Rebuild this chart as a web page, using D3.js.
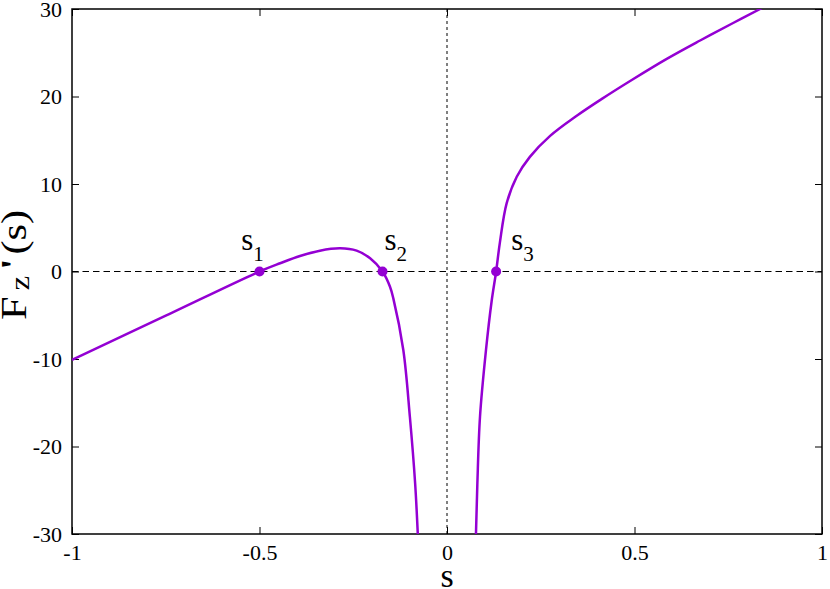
<!DOCTYPE html>
<html>
<head>
<meta charset="utf-8">
<script src="https://cdn.jsdelivr.net/npm/d3@7"></script>
<style>
  body { margin: 0; background: #fff; }
  svg text { font-family: "Liberation Serif", "Times New Roman", serif; fill: #000; }
</style>
</head>
<body>
<svg id="chart" width="830" height="589"></svg>
<script>
// values
const leftS = [-1.0, -0.75, -0.5, -0.445, -0.392, -0.339, -0.285, -0.241, -0.205, -0.172, -0.152, -0.143, -0.1165, -0.099, -0.085, -0.078, -0.075];
const leftF = [-10.1, -5.05, 0, 0.94, 1.77, 2.38, 2.65, 2.38, 1.51, 0, -1.74, -3.1, -8.97, -16.6, -24.2, -29.9, -33];
const rightS = [0.074, 0.0773, 0.081, 0.088, 0.104, 0.119, 0.131, 0.141, 0.159, 0.186, 0.221, 0.275, 0.346, 0.412, 0.497, 0.586, 0.675, 0.763, 0.835, 0.85];
const rightF = [-33, -29.9, -24.2, -16.6, -8.97, -3.4, 0, 3.3, 7.79, 10.83, 13.1, 15.5, 17.8, 19.7, 22.0, 24.3, 26.4, 28.4, 30.0, 30.35];
const roots = [-0.5, -0.172, 0.131];
const rootNames = ["1", "2", "3"];
const rootLabelS = [-0.549, -0.167, 0.171];
const rootLabelF = 2.51;
const xTicks = [-1, -0.5, 0, 0.5, 1];
const yTicks = [-30, -20, -10, 0, 10, 20, 30];

const W = 830, H = 589;
const margin = { left: 72, right: 8, top: 9, bottom: 55 };
const color = "#9400d3";
const serif = '"Liberation Serif", "Times New Roman", serif';

const svg = d3.select("#chart");

const x = d3.scaleLinear().domain([-1, 1]).range([margin.left, W - margin.right]);
const y = d3.scaleLinear().domain([-30, 30]).range([H - margin.bottom, margin.top]);

svg.append("defs").append("clipPath").attr("id", "clip")
  .append("rect")
  .attr("x", x(-1)).attr("y", y(30))
  .attr("width", x(1) - x(-1)).attr("height", y(-30) - y(30));

// zero lines
svg.append("line")
  .attr("x1", x(-1)).attr("x2", x(1))
  .attr("y1", y(0)).attr("y2", y(0))
  .attr("stroke", "#000").attr("stroke-width", 1)
  .attr("stroke-dasharray", "6.5,4");
svg.append("line")
  .attr("x1", x(0)).attr("x2", x(0))
  .attr("y1", y(-30)).attr("y2", y(30))
  .attr("stroke", "#000").attr("stroke-width", 1)
  .attr("stroke-dasharray", "3,3");

// axes, ticks pointing inward on all four sides
const tickLen = 7;
const fmt = d => String(d);
svg.append("g")
  .attr("transform", `translate(0,${y(-30)})`)
  .call(d3.axisBottom(x).tickValues(xTicks).tickSize(-tickLen).tickPadding(10).tickFormat(fmt))
  .call(g => g.select(".domain").remove());
svg.append("g")
  .attr("transform", `translate(0,${y(30)})`)
  .call(d3.axisTop(x).tickValues(xTicks).tickSize(-tickLen).tickFormat(""))
  .call(g => g.select(".domain").remove());
svg.append("g")
  .attr("transform", `translate(${x(-1)},0)`)
  .call(d3.axisLeft(y).tickValues(yTicks).tickSize(-tickLen).tickPadding(10).tickFormat(fmt))
  .call(g => g.select(".domain").remove());
svg.append("g")
  .attr("transform", `translate(${x(1)},0)`)
  .call(d3.axisRight(y).tickValues(yTicks).tickSize(-tickLen).tickFormat(""))
  .call(g => g.select(".domain").remove());

svg.selectAll("g").attr("font-family", serif);
svg.selectAll(".tick text")
  .style("font-family", serif)
  .style("font-size", "22px")
  .attr("fill", "#000");
svg.selectAll(".tick line").attr("stroke", "#000").attr("stroke-width", 1);

svg.append("rect")
  .attr("x", x(-1)).attr("y", y(30))
  .attr("width", x(1) - x(-1)).attr("height", y(-30) - y(30))
  .attr("fill", "none").attr("stroke", "#000").attr("stroke-width", 1.5);

// curve
const line = d3.line()
  .x(d => x(d[0]))
  .y(d => y(d[1]))
  .curve(d3.curveCatmullRom.alpha(0.5));

const plot = svg.append("g").attr("clip-path", "url(#clip)");
[[leftS, leftF], [rightS, rightF]].forEach(([s, f]) => {
  plot.append("path")
    .datum(s.map((v, i) => [v, f[i]]))
    .attr("d", line)
    .attr("fill", "none")
    .attr("stroke", color)
    .attr("stroke-width", 2.5);
});

// roots
svg.selectAll("circle.root")
  .data(roots)
  .enter()
  .append("circle")
  .attr("class", "root")
  .attr("cx", d => x(d))
  .attr("cy", y(0))
  .attr("r", 5)
  .attr("fill", color);

const lbl = svg.selectAll("text.rootlabel")
  .data(roots)
  .enter()
  .append("text")
  .attr("class", "rootlabel")
  .attr("x", (d, i) => x(rootLabelS[i]))
  .attr("y", y(rootLabelF))
  .style("font-family", serif)
  .style("font-size", "31px");
lbl.append("tspan").text("s");
lbl.append("tspan").attr("dy", 11).style("font-size", "21px").text((d, i) => rootNames[i]);

// axis labels
svg.append("text")
  .attr("x", x(0))
  .attr("y", 587)
  .attr("text-anchor", "middle")
  .style("font-family", serif)
  .style("font-size", "34px")
  .text("s");

const yl = svg.append("text")
  .attr("transform", "translate(26,320) rotate(-90) scale(1.18,1)")
  .attr("text-anchor", "start")
  .style("font-family", serif)
  .style("font-size", "36px");
yl.append("tspan").text("F");
yl.append("tspan").attr("dx", 5).attr("dy", 3).style("font-size", "28px").text("z");
yl.append("tspan").attr("dx", 5).attr("dy", -3).style("font-weight", "bold").text("'");
yl.append("tspan").attr("dx", 3).text("(s)");
</script>
</body>
</html>
